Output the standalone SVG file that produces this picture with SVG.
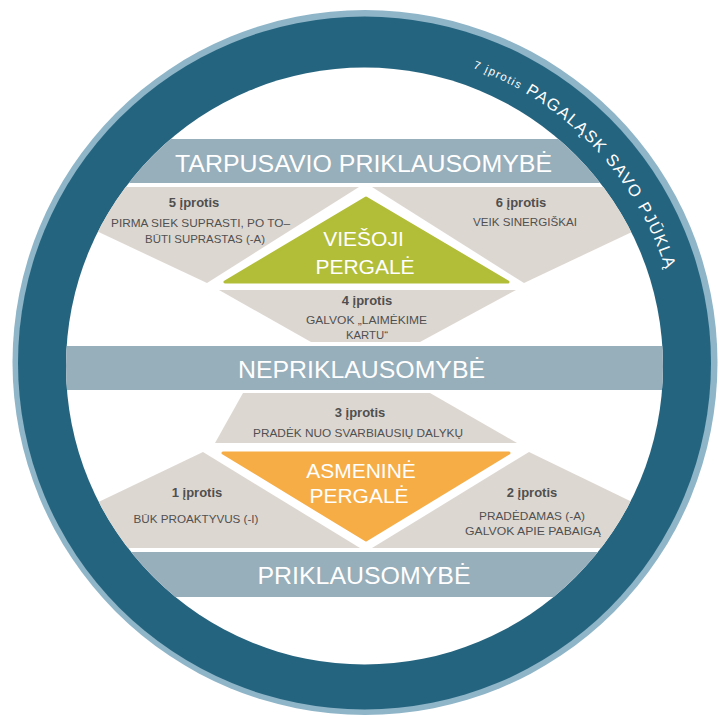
<svg xmlns="http://www.w3.org/2000/svg" width="728" height="715" viewBox="0 0 728 715">
  <style>
    .band { fill: #97aebb; }
    .beige { fill: #ddd7d1; }
    .title { font-family: "Liberation Sans", Arial, sans-serif; font-size: 24px; fill: #ffffff; text-anchor: middle; }
    .victory { font-family: "Liberation Sans", Arial, sans-serif; font-size: 21px; fill: #ffffff; text-anchor: middle; }
    .habit { font-family: "Liberation Sans", Arial, sans-serif; font-size: 13px; font-weight: bold; fill: #4f4f4f; text-anchor: middle; }
    .desc { font-family: "Liberation Sans", Arial, sans-serif; font-size: 10.5px; fill: #505050; text-anchor: middle; }
    .ringtext { font-family: "Liberation Sans", Arial, sans-serif; fill: #ffffff; letter-spacing: 1.3px; font-size: 16.5px; }
    .ringsmall { font-family: "Liberation Sans", Arial, sans-serif; fill: #ffffff; letter-spacing: 1.3px; font-size: 11.5px; }
  </style>
  <defs>
    <clipPath id="inside">
      <circle cx="364.5" cy="366" r="298.5"/>
    </clipPath>
    <!-- baseline arc for the ring label, radius 315 around the ring centre -->
    <path id="ringPath" d="M 472.7 68 A 315 315 0 0 1 675.2 309.3"/>
  </defs>

  <rect width="728" height="715" fill="#ffffff"/>

  <!-- outer ring: habit 7 -->
  <g id="habit-7">
    <circle cx="365" cy="362.5" r="352.5" fill="#8fb5c8"/>
    <circle cx="364.5" cy="363" r="346.5" fill="#25647f"/>
    <circle cx="364.5" cy="366" r="298.5" fill="#ffffff"/>
    <text class="ringsmall"><textPath href="#ringPath" startOffset="0">7 įprotis</textPath></text>
    <text class="ringtext"><textPath href="#ringPath" startOffset="58">PAGALĄSK</textPath></text>
    <text class="ringtext"><textPath href="#ringPath" startOffset="162.4">SAVO</textPath></text>
    <text class="ringtext"><textPath href="#ringPath" startOffset="219.4">PJŪKLĄ</textPath></text>
  </g>

  <g clip-path="url(#inside)">
    <!-- levels -->
    <g id="band-interdependence">
      <rect class="band" x="40" y="139" width="650" height="44"/>
      <text class="title" x="363.5" y="172" textLength="377" lengthAdjust="spacingAndGlyphs">TARPUSAVIO PRIKLAUSOMYBĖ</text>
    </g>
    <g id="band-independence">
      <rect class="band" x="40" y="346" width="650" height="44"/>
      <text class="title" x="361.5" y="378" textLength="247" lengthAdjust="spacingAndGlyphs">NEPRIKLAUSOMYBĖ</text>
    </g>
    <g id="band-dependence">
      <rect class="band" x="40" y="552" width="650" height="45"/>
      <text class="title" x="364" y="584" textLength="213" lengthAdjust="spacingAndGlyphs">PRIKLAUSOMYBĖ</text>
    </g>

    <!-- public victory section -->
    <g id="habit-5">
      <polygon class="beige" points="40,187 359,187 207,283 40,204.5"/>
      <text class="habit" x="194" y="207">5 įprotis</text>
      <text class="desc" x="200.5" y="227" textLength="179" lengthAdjust="spacingAndGlyphs">PIRMA SIEK SUPRASTI, PO TO–</text>
      <text class="desc" x="205" y="243" textLength="120" lengthAdjust="spacingAndGlyphs">BŪTI SUPRASTAS (-A)</text>
    </g>
    <g id="habit-6">
      <polygon class="beige" points="690,187 372,187 524,283 690,204.5"/>
      <text class="habit" x="521" y="207">6 įprotis</text>
      <text class="desc" x="525" y="226" textLength="104" lengthAdjust="spacingAndGlyphs">VEIK SINERGIŠKAI</text>
    </g>
    <g id="habit-4">
      <polygon class="beige" points="219,290 516,290 420,342 311,342"/>
      <text class="habit" x="367" y="305">4 įprotis</text>
      <text class="desc" x="366.5" y="324" textLength="121" lengthAdjust="spacingAndGlyphs">GALVOK „LAIMĖKIME</text>
      <text class="desc" x="367" y="339" textLength="42" lengthAdjust="spacingAndGlyphs">KARTU“</text>
    </g>
    <g id="public-victory">
      <polygon points="225,282 508,282 366,198" fill="#b2bd38" stroke="#b2bd38" stroke-width="3" stroke-linejoin="round"/>
      <text class="victory" x="363.5" y="246">VIEŠOJI</text>
      <text class="victory" x="365" y="274">PERGALĖ</text>
    </g>

    <!-- private victory section -->
    <g id="habit-3">
      <polygon class="beige" points="243,393 430,393 517,443 215,443"/>
      <text class="habit" x="360" y="417">3 įprotis</text>
      <text class="desc" x="358" y="437" textLength="210" lengthAdjust="spacingAndGlyphs">PRADĖK NUO SVARBIAUSIŲ DALYKŲ</text>
    </g>
    <g id="private-victory">
      <polygon points="223,453 509,453 366,540" fill="#f7ad45" stroke="#f7ad45" stroke-width="3" stroke-linejoin="round"/>
      <text class="victory" x="361" y="478">ASMENINĖ</text>
      <text class="victory" x="359" y="503">PERGALĖ</text>
    </g>
    <g id="habit-1">
      <polygon class="beige" points="203,452 360,548 40,548 40,530"/>
      <text class="habit" x="197" y="497">1 įprotis</text>
      <text class="desc" x="196" y="523" textLength="125" lengthAdjust="spacingAndGlyphs">BŪK PROAKTYVUS (-I)</text>
    </g>
    <g id="habit-2">
      <polygon class="beige" points="529,452 690,530 690,548 372,548"/>
      <text class="habit" x="532" y="497">2 įprotis</text>
      <text class="desc" x="532" y="520" textLength="106" lengthAdjust="spacingAndGlyphs">PRADĖDAMAS (-A)</text>
      <text class="desc" x="533" y="535" textLength="136" lengthAdjust="spacingAndGlyphs">GALVOK APIE PABAIGĄ</text>
    </g>
  </g>
</svg>
